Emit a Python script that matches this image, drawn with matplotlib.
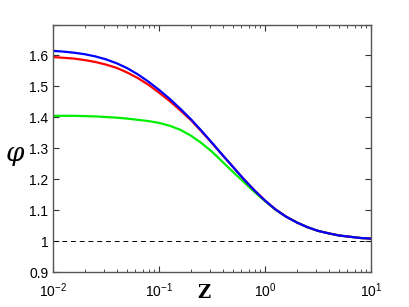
import numpy as np
import matplotlib
matplotlib.use('Agg')
import matplotlib.pyplot as plt

plt.rcParams['font.family'] = ['Liberation Sans', 'DejaVu Sans']
plt.rcParams['mathtext.fontset'] = 'custom'
plt.rcParams['mathtext.rm'] = 'Liberation Sans'
plt.rcParams['mathtext.it'] = 'Liberation Sans:italic'

# values
z = [0.01, 0.0126, 0.0158, 0.02, 0.0251, 0.0316, 0.0398, 0.0501, 0.0631, 0.0794,
     0.1, 0.126, 0.158, 0.2, 0.251, 0.316, 0.398, 0.501, 0.631, 0.794,
     1.0, 1.26, 1.58, 2.0, 2.51, 3.16, 3.98, 5.01, 6.31, 7.94, 10.0]
phi_blue = [1.615, 1.6125, 1.609, 1.604, 1.597, 1.5875, 1.575, 1.559, 1.539, 1.5155,
            1.489, 1.460, 1.4285, 1.394, 1.357, 1.318, 1.278, 1.239, 1.200, 1.164,
            1.131, 1.102, 1.079, 1.060, 1.045, 1.033, 1.025, 1.018, 1.014, 1.010, 1.008]
phi_red = [1.595, 1.5925, 1.590, 1.585, 1.579, 1.5705, 1.560, 1.545, 1.527, 1.5055,
           1.480, 1.453, 1.4235, 1.391, 1.355, 1.317, 1.2775, 1.239, 1.200, 1.164,
           1.131, 1.102, 1.079, 1.060, 1.045, 1.033, 1.025, 1.018, 1.014, 1.010, 1.008]
phi_green = [1.405, 1.405, 1.405, 1.404, 1.403, 1.401, 1.399, 1.396, 1.392, 1.388,
             1.382, 1.373, 1.360, 1.341, 1.317, 1.289, 1.256, 1.223, 1.191, 1.159,
             1.129, 1.101, 1.079, 1.060, 1.045, 1.033, 1.025, 1.018, 1.014, 1.010, 1.008]
yticks = [0.9, 1.0, 1.1, 1.2, 1.3, 1.4, 1.5, 1.6, 1.7]
ylabels = ['0.9', '1', '1.1', '1.2', '1.3', '1.4', '1.5', '1.6', '']

fig = plt.figure(figsize=(4.09, 3.07), dpi=100)
ax = fig.add_axes([0.1296, 0.114, 0.7775, 0.806])

ax.plot(z, phi_green, color='#00ee00', lw=1.6)
ax.plot(z, phi_red, color='#ff0000', lw=1.6)
ax.plot(z, phi_blue, color='#0000ff', lw=1.6)
ax.axhline(1.0, color='black', lw=0.7, ls=(0, (5, 4)))

ax.set_xscale('log')
ax.set_xlim(0.01, 10)
ax.set_ylim(0.9, 1.7)
ax.set_yticks(yticks)
ax.set_yticklabels(ylabels)
ax.set_xticks([0.01, 0.1, 1, 10])
ax.set_xticklabels([r'$10^{-2}$', r'$10^{-1}$', r'$10^{0}$', r'$10^{1}$'])

ax.tick_params(which='both', direction='in', top=True, right=True,
               colors='#333333', labelcolor='black', labelsize=10)
ax.tick_params(which='major', length=4, width=0.8)
ax.tick_params(which='minor', length=2.5, width=0.6)
ax.tick_params(axis='x', pad=7)
for s in ax.spines.values():
    s.set_color('#555555')
    s.set_linewidth(1.0)

ax.set_xlabel('Z', family='DejaVu Serif', fontweight='bold', fontsize=13)
ax.xaxis.set_label_coords(0.475, -0.05)
ax.set_ylabel('φ', family='DejaVu Serif', style='italic', fontsize=19, rotation=0)
ax.yaxis.set_label_coords(-0.12, 0.43)

fig.savefig('out.png', dpi=100)
